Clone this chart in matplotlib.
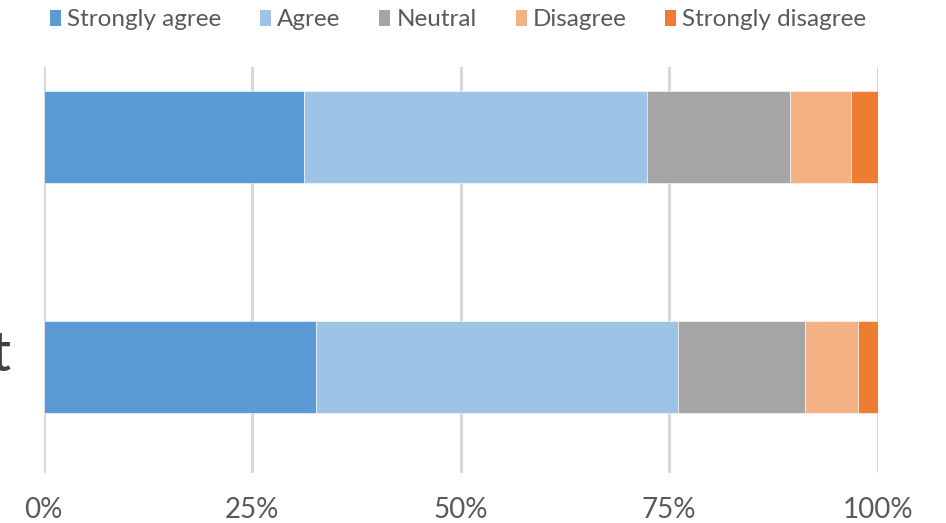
import numpy as np
import matplotlib.pyplot as plt
from matplotlib.patches import Patch

plt.rcParams['font.family'] = ['Lato', 'DejaVu Sans']

# data (percent of responses)
categories = ["t", ""]          # bottom bar first; only the end of the bottom label shows
responses = ["Strongly agree", "Agree", "Neutral", "Disagree", "Strongly disagree"]
strongly_agree = [32.6, 31.2]
agree = [43.4, 41.1]
neutral = [15.3, 17.2]
disagree = [6.3, 7.3]
strongly_disagree = [2.4, 3.2]

colors = ["#5B9BD5", "#9DC3E6", "#A5A5A5", "#F4B183", "#ED7D31"]
text_col = "#595959"

fig = plt.figure(figsize=(9.46, 5.23), dpi=100)
ax = fig.add_axes([43.7 / 946, 1 - 473 / 523, 834 / 946, 406 / 523])

series = [strongly_agree, agree, neutral, disagree, strongly_disagree]
ypos = np.arange(len(categories))
left = np.zeros(len(categories))
for vals, col, name in zip(series, colors, responses):
    ax.barh(ypos, vals, left=left, height=0.4, color=col, label=name,
            edgecolor="white", linewidth=0.4, zorder=3)
    left += np.array(vals)

ax.set_xlim(0, 100)
ax.set_ylim(-0.461, 1.304)
ax.set_xticks([0, 25, 50, 75, 100])
ax.set_xticklabels(["0%", "25%", "50%", "75%", "100%"])
ax.set_yticks([])

# category labels (cut off at the left edge like the original)
for y, cat in zip(ypos, categories):
    ax.annotate(cat, xy=(0, y), xycoords=ax.get_yaxis_transform(),
                xytext=(-23.5, -3), textcoords="offset points",
                ha="right", va="baseline", fontsize=40, color="#404040",
                fontweight="medium", annotation_clip=False)

ax.grid(axis="x", color="#D9D9D9", linewidth=2.2, zorder=0)
ax.grid(axis="y", visible=False)
for s in ax.spines.values():
    s.set_visible(False)
ax.tick_params(axis="x", length=0, pad=17, labelsize=20, labelcolor=text_col)

handles = [Patch(facecolor=c, edgecolor="none") for c in colors]
fig.legend(handles, responses, loc="center left", bbox_to_anchor=(50 / 946, 1 - 20 / 523),
           ncol=5, frameon=False, fontsize=17.5, labelcolor=text_col,
           handlelength=0.45, handleheight=0.6, handletextpad=0.25,
           columnspacing=1.6, borderpad=0, borderaxespad=0)

fig.savefig("out.png", dpi=100)
